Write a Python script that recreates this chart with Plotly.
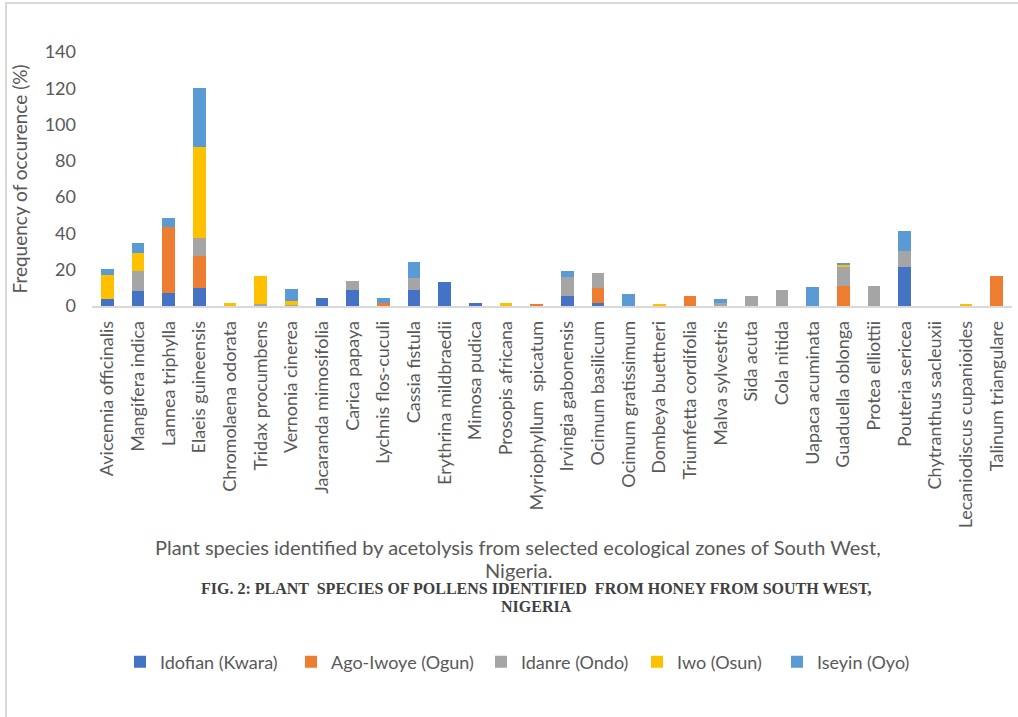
import plotly.graph_objects as go

categories = ["Avicennia officinalis", "Mangifera indica", "Lannea triphylla", "Elaeis guineensis",
              "Chromolaena odorata", "Tridax procumbens", "Vernonia cinerea", "Jacaranda mimosifolia",
              "Carica papaya", "Lychnis flos-cuculi", "Cassia fistula", "Erythrina mildbraedii",
              "Mimosa pudica", "Prosopis africana", "Myriophyllum  spicatum", "Irvingia gabonensis",
              "Ocimum basilicum", "Ocimum gratissimum", "Dombeya buettneri", "Triumfetta cordifolia",
              "Malva sylvestris", "Sida acuta", "Cola nitida", "Uapaca acuminata", "Guaduella oblonga",
              "Protea elliottii", "Pouteria sericea", "Chytranthus sacleuxii", "Lecaniodiscus cupanioides",
              "Talinum triangulare"]

idofian = [4, 8.3, 7.2, 10.1, 0, 0.5, 0, 4.4, 9, 0, 8.8, 13.4, 1.8, 0, 0, 5.5, 1.8, 0, 0, 0, 0, 0, 0, 0, 0, 0, 21.5, 0, 0, 0]
ago_iwoye = [0, 0, 36.5, 17.5, 0, 0, 0, 0, 0, 1.5, 0, 0, 0, 0, 0.9, 0, 8.3, 0, 0, 5.3, 0, 0, 0, 0, 11, 0, 0, 0, 0, 16.8]
idanre = [0, 11, 0, 10, 0, 0.5, 0.5, 0, 4.6, 0, 6.5, 0, 0, 0, 0, 10.3, 7.9, 0, 0, 0, 1.6, 5.7, 8.7, 0, 11, 11, 8.7, 0, 0, 0]
iwo = [13, 10, 0, 49.8, 1.5, 15.4, 2.5, 0, 0, 0, 0, 0, 0, 1.8, 0, 0, 0, 0, 0.8, 0, 0, 0, 0, 0, 0.8, 0, 0, 0, 1.3, 0]
iseyin = [3.5, 5.4, 4.6, 32.7, 0, 0, 6.5, 0, 0, 2.7, 9.1, 0, 0, 0, 0, 3.5, 0, 6.6, 0, 0, 2.4, 0, 0, 10.5, 0.9, 0, 11, 0, 0, 0]

series_names = ["Idofian (Kwara)", "Ago-Iwoye (Ogun)", "Idanre (Ondo)", "Iwo (Osun)", "Iseyin (Oyo)"]
series_values = [idofian, ago_iwoye, idanre, iwo, iseyin]
series_colors = ["#4472C4", "#ED7D31", "#A5A5A5", "#FFC000", "#5B9BD5"]

y_ticks = [0, 20, 40, 60, 80, 100, 120, 140]

FONT = "Lato, Calibri, Carlito, sans-serif"
GRAY = "#595959"

L, R, T, B = 92, 6, 52, 411
W, H = 1018, 717
pw, ph = W - L - R, H - T - B

def py(Y):
    return (H - B - Y) / ph

def px(X):
    return (X - L) / pw

# x pixel where each legend entry's text starts in the reference
legend_text_x = [156, 327, 517, 673, 813]

fig = go.Figure()
legend_layouts = {}
for i, (name, vals, color) in enumerate(zip(series_names, series_values, series_colors)):
    lg = "legend" if i == 0 else f"legend{i + 1}"
    fig.add_trace(go.Bar(x=categories, y=vals, name=name, marker_color=color,
                         marker_line_width=0, legend=lg))
    legend_layouts[lg] = dict(orientation="h", x=px(legend_text_x[i] - 36), xanchor="left",
                              y=py(662), yanchor="middle", font=dict(size=18, color=GRAY),
                              bgcolor="rgba(0,0,0,0)", itemclick=False, itemdoubleclick=False)

fig.update_layout(
    width=W, height=H,
    margin=dict(l=L, r=R, t=T, b=B),
    barmode="stack", bargap=0.58,
    plot_bgcolor="white", paper_bgcolor="white",
    font=dict(family=FONT, color=GRAY, size=15),
    showlegend=True,
    xaxis=dict(showline=True, linecolor="#d9d9d9", linewidth=1.5, tickangle=-90,
               tickfont=dict(size=18, color=GRAY), ticks="", showgrid=False, ticklabelstandoff=6),
    yaxis=dict(range=[0, 140], tickvals=y_ticks, showgrid=False, zeroline=False,
               tickfont=dict(size=18, color=GRAY), ticks="", ticklabelstandoff=15,
               title=dict(text="Frequency of occurence (%)", font=dict(size=19, color=GRAY), standoff=12)),
    **legend_layouts,
)

fig.add_annotation(xref="paper", yref="paper", x=px(518), y=py(547), yanchor="middle",
                   text="Plant species identified by acetolysis from selected ecological zones of South West,",
                   showarrow=False, font=dict(size=20, color=GRAY))
fig.add_annotation(xref="paper", yref="paper", x=px(518), y=py(570), yanchor="middle",
                   text="Nigeria.", showarrow=False, font=dict(size=20, color=GRAY))
fig.add_annotation(xref="paper", yref="paper", x=px(536), y=py(588), yanchor="middle",
                   text="<b>FIG. 2: PLANT  SPECIES OF POLLENS IDENTIFIED  FROM HONEY FROM SOUTH WEST,</b>",
                   showarrow=False, font=dict(size=16, color="#404040", family="Liberation Serif, Times New Roman, serif"))
fig.add_annotation(xref="paper", yref="paper", x=px(536), y=py(607), yanchor="middle",
                   text="<b>NIGERIA</b>",
                   showarrow=False, font=dict(size=16, color="#404040", family="Liberation Serif, Times New Roman, serif"))

fig.add_shape(type="rect", xref="paper", yref="paper", x0=px(6), x1=px(1030), y0=py(740), y1=py(3),
              line=dict(color="#d9d9d9", width=2), fillcolor="rgba(0,0,0,0)", layer="below")

fig.write_html("out.html")
